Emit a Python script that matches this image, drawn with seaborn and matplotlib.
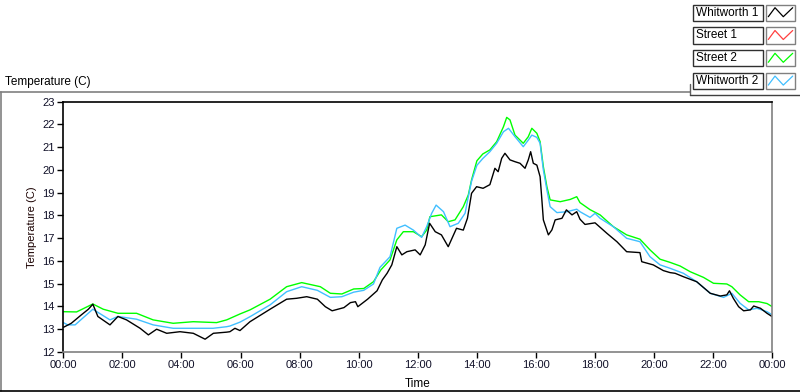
import matplotlib
matplotlib.use("Agg")
import matplotlib.pyplot as plt
import seaborn as sns
import pandas as pd
from matplotlib.ticker import MultipleLocator, FuncFormatter
from matplotlib.patches import Rectangle
from matplotlib.lines import Line2D

# ---------------- data (hours since midnight, temperature in C) ----------------
w1_hours = [0.0, 0.27, 0.61, 0.85, 1.0, 1.17, 1.58, 1.85, 2.14, 2.6, 2.88, 3.16, 3.5, 3.95,
            4.4, 4.8, 5.08, 5.53, 5.64, 5.81, 5.98, 6.32, 7.0, 7.56, 7.9, 8.24, 8.6, 8.87,
            9.1, 9.5, 9.72, 9.89, 9.97, 10.3, 10.62, 10.8, 10.96, 11.12, 11.29, 11.46,
            11.63, 11.91, 12.08, 12.25, 12.4, 12.59, 12.8, 13.03, 13.31, 13.54, 13.68,
            13.82, 13.99, 14.21, 14.44, 14.61, 14.72, 14.84, 14.95, 15.12, 15.29, 15.46,
            15.63, 15.74, 15.82, 15.91, 16.03, 16.14, 16.2, 16.25, 16.42, 16.54, 16.65,
            16.88, 17.03, 17.22, 17.38, 17.49, 17.66, 18.0, 18.4, 18.74, 19.07, 19.52,
            19.58, 19.97, 20.31, 20.54, 20.71, 20.99, 21.44, 21.9, 22.24, 22.46, 22.55,
            22.68, 22.86, 23.03, 23.26, 23.37, 23.6, 23.82, 24.0]
w1_temps = [13.07, 13.25, 13.62, 13.87, 14.09, 13.55, 13.18, 13.55, 13.4, 13.03, 12.74, 12.99,
            12.81, 12.88, 12.81, 12.55, 12.81, 12.86, 12.88, 13.03, 12.93, 13.32, 13.87,
            14.31, 14.35, 14.42, 14.31, 13.98, 13.8, 13.94, 14.16, 14.2, 13.98, 14.31, 14.68,
            15.16, 15.45, 15.82, 16.62, 16.26, 16.4, 16.48, 16.26, 16.7, 17.65, 17.28, 17.14,
            16.62, 17.43, 17.35, 17.87, 18.97, 19.26, 19.19, 19.35, 20.07, 19.92, 20.51,
            20.73, 20.44, 20.36, 20.29, 20.07, 20.44, 20.8, 20.29, 20.21, 19.7, 18.68, 17.8,
            17.14, 17.36, 17.8, 17.87, 18.24, 18.02, 18.16, 17.83, 17.6, 17.67, 17.21, 16.84,
            16.4, 16.36, 15.96, 15.82, 15.57, 15.48, 15.45, 15.3, 15.08, 14.57, 14.45, 14.5,
            14.68, 14.35, 13.98, 13.8, 13.84, 14.01, 13.91, 13.69, 13.54]

s1_hours = []   # Street 1: no visible trace in the chart
s1_temps = []

s2_hours = [0.0, 0.45, 1.0, 1.35, 1.85, 2.48, 3.04, 3.72, 4.4, 5.19, 5.53, 5.98, 6.32, 7.0,
            7.56, 8.07, 8.7, 9.04, 9.43, 9.83, 10.17, 10.5, 10.75, 11.06, 11.29, 11.51,
            11.85, 12.13, 12.3, 12.41, 12.8, 13.03, 13.26, 13.54, 13.71, 13.82, 14.0, 14.2,
            14.44, 14.67, 14.9, 15.01, 15.12, 15.29, 15.57, 15.74, 15.86, 16.03, 16.14,
            16.25, 16.37, 16.48, 16.82, 17.16, 17.38, 17.49, 17.83, 18.17, 18.62, 19.07,
            19.52, 19.86, 20.2, 20.54, 20.88, 21.22, 21.67, 22.01, 22.46, 22.63, 22.91,
            23.2, 23.54, 23.82, 24.0]
s2_temps = [13.76, 13.75, 14.1, 13.87, 13.69, 13.69, 13.4, 13.25, 13.32, 13.28, 13.4, 13.66,
            13.84, 14.31, 14.86, 15.04, 14.86, 14.57, 14.54, 14.76, 14.78, 15.08, 15.6,
            16.04, 16.92, 17.28, 17.28, 17.06, 17.35, 17.94, 18.02, 17.72, 17.8, 18.38,
            18.9, 19.56, 20.4, 20.7, 20.88, 21.24, 21.9, 22.31, 22.2, 21.53, 21.17, 21.46,
            21.83, 21.61, 21.24, 20.14, 19.26, 18.68, 18.6, 18.7, 18.82, 18.56, 18.25,
            18.02, 17.5, 17.14, 16.95, 16.48, 16.07, 15.93, 15.77, 15.52, 15.27, 15.01,
            14.98, 14.86, 14.5, 14.2, 14.2, 14.12, 13.98]

w2_hours = [0.0, 0.15, 0.4, 1.0, 1.58, 1.85, 2.48, 3.04, 3.72, 5.07, 5.53, 5.64, 5.98, 6.32,
            7.0, 7.56, 8.07, 8.6, 9.04, 9.43, 9.83, 10.17, 10.5, 10.72, 11.06, 11.29, 11.57,
            11.85, 12.13, 12.3, 12.47, 12.62, 12.87, 13.09, 13.37, 13.6, 13.71, 13.82, 14.0,
            14.2, 14.44, 14.67, 14.9, 15.07, 15.29, 15.57, 15.74, 15.86, 16.03, 16.14, 16.25,
            16.37, 16.48, 16.71, 17.05, 17.38, 17.49, 17.83, 18.0, 18.17, 18.62, 19.07,
            19.52, 19.86, 20.2, 20.54, 20.99, 21.44, 21.9, 22.35, 22.63, 22.91, 23.2, 23.48,
            23.82, 24.0]
w2_temps = [13.28, 13.18, 13.18, 13.87, 13.4, 13.55, 13.43, 13.18, 13.03, 13.03, 13.1, 13.13,
            13.3, 13.54, 14.06, 14.64, 14.86, 14.7, 14.39, 14.42, 14.62, 14.7, 14.98, 15.71,
            16.18, 17.43, 17.57, 17.35, 17.03, 17.5, 18.09, 18.45, 18.16, 17.5, 17.65, 18.09,
            18.82, 19.5, 20.2, 20.5, 20.8, 21.17, 21.68, 21.83, 21.46, 21.02, 21.31, 21.53,
            21.43, 21.17, 20.0, 19.12, 18.38, 18.12, 18.16, 18.27, 18.16, 17.91, 18.09,
            17.87, 17.5, 16.99, 16.84, 16.18, 15.82, 15.67, 15.45, 15.08, 14.57, 14.39,
            14.57, 14.13, 13.84, 13.91, 13.76, 13.62]

legend_names = ["Whitworth 1", "Street 1", "Street 2", "Whitworth 2"]
x_tick_hours = list(range(0, 25, 2))
x_tick_labels = ["00:00", "02:00", "04:00", "06:00", "08:00", "10:00", "12:00",
                 "14:00", "16:00", "18:00", "20:00", "22:00", "00:00"]
y_ticks = list(range(12, 24))

colors = {"Whitworth 1": "#000000", "Street 1": "#ff4040",
          "Street 2": "#00ff00", "Whitworth 2": "#40bfff"}

# ---------------- figure ----------------
sns.set_style("white")
plt.rcParams["font.family"] = ["Liberation Sans", "DejaVu Sans"]

W, H = 800, 392
fig = plt.figure(figsize=(8, 3.92), dpi=100)


def fx(x):
    return x / W


def fy(y):
    return 1 - y / H


frames = []
for name, hs, ts in [("Whitworth 1", w1_hours, w1_temps), ("Street 1", s1_hours, s1_temps),
                     ("Street 2", s2_hours, s2_temps), ("Whitworth 2", w2_hours, w2_temps)]:
    frames.append(pd.DataFrame({"hour": hs, "temp": ts, "series": name}))
df = pd.concat(frames, ignore_index=True)
df = df[df["series"] != "Street 1"]

ax = fig.add_axes([fx(63.3), fy(351.7), (772.3 - 63.3) / W, (351.7 - 101.7) / H])
sns.lineplot(data=df, x="hour", y="temp", hue="series",
             hue_order=["Street 2", "Whitworth 2", "Whitworth 1"],
             palette=colors, estimator=None, sort=False, legend=False,
             linewidth=1.0, ax=ax)

ax.set_xlim(0, 24)
ax.set_ylim(12, 23)
ax.set_xticks(x_tick_hours)
ax.set_xticklabels(x_tick_labels)
ax.xaxis.set_minor_locator(MultipleLocator(0.2))
ax.set_yticks(y_ticks)
ax.set_xlabel("")
ax.set_ylabel("")
ax.tick_params(axis="both", which="major", direction="out", length=4, width=1,
               color="#000000", labelsize=8, pad=2, labelcolor="#101028")
ax.tick_params(axis="x", which="minor", direction="out", length=2, width=1, color="#000000")
ax.tick_params(bottom=True, left=True, top=False, right=False)
for side in ["left", "top"]:
    ax.spines[side].set_color("#000000")
    ax.spines[side].set_linewidth(1.2)
for side in ["right", "bottom"]:
    ax.spines[side].set_color("#808080")
    ax.spines[side].set_linewidth(1.2)

fig.text(fx(32), fy(226.7), "Temperature (C)", rotation=90, ha="center", va="center",
         fontsize=8, color="#1a0000")
fig.text(fx(418), fy(384), "Time", ha="center", va="center", fontsize=8.5, color="#000000")
fig.text(fx(5), fy(82), "Temperature (C)", ha="left", va="center", fontsize=8.5,
         color="#000000")

# outer panel frame
fig.add_artist(Line2D([fx(0), fx(690)], [fy(91.5), fy(91.5)], color="#808080", lw=1.2,
                      transform=fig.transFigure))
fig.add_artist(Line2D([fx(1), fx(1)], [fy(91.5), fy(391)], color="#808080", lw=1.2,
                      transform=fig.transFigure))
fig.add_artist(Line2D([fx(0), fx(800)], [fy(390.5), fy(390.5)], color="#000000", lw=1.2,
                      transform=fig.transFigure))
fig.add_artist(Line2D([fx(690), fx(690)], [fy(84), fy(95)], color="#606060", lw=1.0,
                      transform=fig.transFigure))
fig.add_artist(Line2D([fx(690), fx(800)], [fy(95), fy(95)], color="#404040", lw=1.0,
                      transform=fig.transFigure))

# custom legend
row_tops = [4.7, 27.5, 50.3, 73.1]
for name, top in zip(legend_names, row_tops):
    fig.add_artist(Rectangle((fx(693.3), fy(top + 16)), (762.7 - 693.3) / W, 16 / H,
                             transform=fig.transFigure, facecolor="white",
                             edgecolor="#303030", lw=1.0))
    fig.text(fx(695.5), fy(top + 8), name, ha="left", va="center", fontsize=8.5,
             color="#000000")
    fig.add_artist(Rectangle((fx(766), fy(top + 16)), (795 - 766) / W, 16 / H,
                             transform=fig.transFigure, facecolor="white",
                             edgecolor="#808080", lw=1.0))
    zx = [768.3, 775, 783.3, 792.7]
    zy = [top + 12, top + 3, top + 12, top + 3]
    fig.add_artist(Line2D([fx(v) for v in zx], [fy(v) for v in zy],
                          color=colors[name], lw=0.9, transform=fig.transFigure))

fig.savefig("out.png", dpi=100)
